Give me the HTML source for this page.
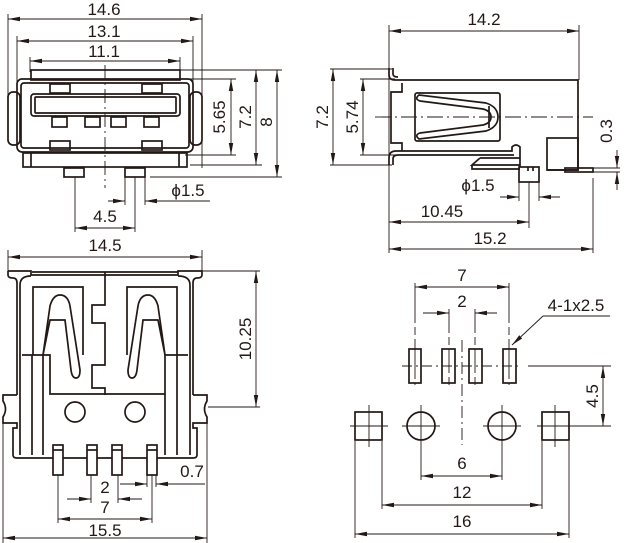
<!DOCTYPE html>
<html><head><meta charset="utf-8"><style>
html,body{margin:0;padding:0;background:#fff;}
svg{display:block;}
text{font-family:"Liberation Sans",sans-serif;font-size:17px;fill:#231815;}
</style></head><body>
<svg width="624" height="543" viewBox="0 0 624 543" xmlns="http://www.w3.org/2000/svg">
<defs>
<marker id="a" viewBox="0 0 12 6" refX="12" refY="3" markerWidth="12" markerHeight="6" markerUnits="userSpaceOnUse" orient="auto-start-reverse"><path d="M0,0.8 L12,3 L0,5.2 Z" fill="#231815"/></marker>
</defs>
<g stroke="#231815" fill="none">
<!-- ============ TOP LEFT VIEW ============ -->
<g stroke-width="0.9">
<line x1="8" y1="14" x2="8" y2="142"/><line x1="202" y1="14" x2="202" y2="168"/>
<line x1="17" y1="36" x2="17" y2="82"/><line x1="193" y1="36" x2="193" y2="82"/>
<line x1="30" y1="57" x2="30" y2="72"/><line x1="180" y1="57" x2="180" y2="72"/>
<line x1="8" y1="19" x2="202" y2="19" marker-start="url(#a)" marker-end="url(#a)"/>
<line x1="17" y1="41" x2="193" y2="41" marker-start="url(#a)" marker-end="url(#a)"/>
<line x1="30" y1="61" x2="180" y2="61" marker-start="url(#a)" marker-end="url(#a)"/>
<line x1="185" y1="79" x2="236" y2="79"/><line x1="185" y1="155" x2="236" y2="155"/>
<line x1="180" y1="70" x2="282" y2="70"/><line x1="190" y1="165" x2="262" y2="165"/>
<line x1="150" y1="177" x2="282" y2="177"/>
<line x1="231" y1="79" x2="231" y2="155" marker-start="url(#a)" marker-end="url(#a)"/>
<line x1="256" y1="70" x2="256" y2="165" marker-start="url(#a)" marker-end="url(#a)"/>
<line x1="277" y1="70" x2="277" y2="177" marker-start="url(#a)" marker-end="url(#a)"/>
<line x1="125" y1="177" x2="125" y2="205"/><line x1="145" y1="177" x2="145" y2="205"/>
<line x1="75" y1="177" x2="75" y2="232"/><line x1="135" y1="177" x2="135" y2="232"/>
<line x1="108" y1="201" x2="125" y2="201" marker-end="url(#a)"/>
<line x1="145" y1="201" x2="210" y2="201" marker-start="url(#a)"/>
<line x1="75" y1="228" x2="135" y2="228" marker-start="url(#a)" marker-end="url(#a)"/>
<line x1="105" y1="65" x2="105" y2="188" stroke-dasharray="14,4,2,4"/>
</g>
<g stroke-width="1.7">
<rect x="31" y="70" width="149" height="10"/>
<rect x="17" y="79" width="176" height="73" rx="5"/>
<rect x="21" y="83" width="168" height="65" rx="3"/>
<rect x="8" y="92" width="12" height="53" rx="5"/>
<rect x="190" y="92" width="12" height="53" rx="5"/>
<rect x="31" y="94" width="149" height="22" rx="3"/>
<rect x="35" y="97" width="141" height="16" rx="1"/>
<rect x="50" y="84" width="20" height="9"/><rect x="142" y="84" width="20" height="9"/>
<rect x="52" y="117" width="15" height="10"/><rect x="85" y="117" width="15" height="10"/>
<rect x="111" y="117" width="15" height="10"/><rect x="144" y="117" width="15" height="10"/>
<rect x="50" y="141" width="20" height="9"/><rect x="142" y="141" width="20" height="9"/>
<rect x="23" y="153" width="164" height="14"/>
<line x1="31" y1="153" x2="31" y2="167"/><line x1="179" y1="153" x2="179" y2="167"/>
<rect x="64" y="168" width="20" height="9"/><rect x="125" y="168" width="20" height="9"/>
</g>
<!-- ============ TOP RIGHT VIEW ============ -->
<g stroke-width="0.9">
<line x1="389" y1="25" x2="389" y2="253"/><line x1="579" y1="25" x2="579" y2="80"/>
<line x1="389" y1="31" x2="579" y2="31" marker-start="url(#a)" marker-end="url(#a)"/>
<line x1="330" y1="69" x2="392" y2="69"/><line x1="330" y1="165" x2="392" y2="165"/>
<line x1="360" y1="79" x2="395" y2="79"/><line x1="360" y1="155" x2="395" y2="155"/>
<line x1="333" y1="69" x2="333" y2="165" marker-start="url(#a)" marker-end="url(#a)"/>
<line x1="363" y1="79" x2="363" y2="155" marker-start="url(#a)" marker-end="url(#a)"/>
<line x1="375" y1="117" x2="593" y2="117" stroke-dasharray="16,4,2,4"/>
<line x1="593" y1="168" x2="620" y2="168"/><line x1="593" y1="172" x2="620" y2="172"/>
<line x1="617" y1="150" x2="617" y2="168" marker-end="url(#a)"/>
<line x1="617" y1="190" x2="617" y2="172" marker-end="url(#a)"/>
<line x1="519" y1="182" x2="519" y2="201"/><line x1="539" y1="182" x2="539" y2="201"/>
<line x1="529" y1="182" x2="529" y2="228"/>
<line x1="500" y1="197" x2="519" y2="197" marker-end="url(#a)"/>
<line x1="539" y1="197" x2="560" y2="197" marker-start="url(#a)"/>
<line x1="389" y1="222" x2="529" y2="222" marker-start="url(#a)" marker-end="url(#a)"/>
<line x1="593" y1="178" x2="593" y2="253"/>
<line x1="389" y1="249" x2="593" y2="249" marker-start="url(#a)" marker-end="url(#a)"/>
</g>
<g stroke-width="1.7">
<path d="M389,68 L389,75 Q389,80 395,80 L578,80 L578,170 L547,170"/>
<path d="M393,68 L393,74 Q393,77 398,77"/>
<path d="M402,83 L402,92 L391,92 L391,143 L402,143 L402,151"/>
<path d="M389,165 L389,158 Q389,151 396,151 L512,151 L512,147 Q516,143 520,147 L520,167"/>
<path d="M393,165 L393,159 Q393,155 398,155 L514,155"/>
<rect x="415" y="93" width="85" height="48" rx="2"/>
<path d="M419,95 Q414,99 420,101 L483,109 Q491,111 491,117 Q491,123 483,125 L420,133 Q414,135 419,139 L486,131 Q498,127 498,117 Q498,107 486,103 Z"/>
<line x1="489" y1="106" x2="489" y2="128"/>
<rect x="547" y="138" width="31" height="32"/>
<path d="M480,158 L520,158 M480,158 L472,165 L520,165 M472,165 L472,169 L520,169"/>
<rect x="519" y="167" width="20" height="15"/>
<line x1="528" y1="167" x2="528" y2="171"/><line x1="533" y1="167" x2="533" y2="171"/>
<rect x="565" y="168" width="28" height="4"/>
</g>
<!-- ============ BOTTOM LEFT VIEW ============ -->
<g stroke-width="0.9">
<line x1="8" y1="250" x2="8" y2="272"/><line x1="202" y1="250" x2="202" y2="272"/>
<line x1="8" y1="257" x2="202" y2="257" marker-start="url(#a)" marker-end="url(#a)"/>
<line x1="200" y1="271" x2="260" y2="271"/><line x1="208" y1="407" x2="260" y2="407"/>
<line x1="256" y1="271" x2="256" y2="407" marker-start="url(#a)" marker-end="url(#a)"/>
<line x1="3" y1="418" x2="3" y2="543"/><line x1="207" y1="418" x2="207" y2="543"/>
<line x1="3" y1="538" x2="207" y2="538" marker-start="url(#a)" marker-end="url(#a)"/>
<line x1="58" y1="475" x2="58" y2="523"/><line x1="152" y1="475" x2="152" y2="523"/>
<line x1="58" y1="519" x2="152" y2="519" marker-start="url(#a)" marker-end="url(#a)"/>
<line x1="91" y1="475" x2="91" y2="503"/><line x1="118" y1="475" x2="118" y2="503"/>
<line x1="67" y1="499" x2="91" y2="499" marker-end="url(#a)"/>
<line x1="142" y1="499" x2="118" y2="499" marker-end="url(#a)"/>
<line x1="147" y1="475" x2="147" y2="487"/><line x1="156" y1="475" x2="156" y2="487"/>
<line x1="120" y1="484" x2="147" y2="484" marker-end="url(#a)"/>
<line x1="205" y1="484" x2="156" y2="484" marker-end="url(#a)"/>
</g>
<g stroke-width="1.7">
<path d="M8,271 L8,275 Q8,278 13,278 Q17,278 17,283 L17,395 M8,271 L31,271 L31,275 L178,275 L178,271 L202,271 L202,275 Q202,278 197,278 Q193,278 193,283 L193,395"/>
<path d="M31,276 Q20,276 20,285 L20,455 M178,276 Q190,276 190,285 L190,455"/>
<line x1="32" y1="272" x2="178" y2="272"/>
<path d="M17,395 L3,395 L3,401 Q8,409 3,417 L3,423 L17,423 L17,428 L13,428 L13,455 Q13,458 17,458 L193,458 Q197,458 197,455 L197,428 L193,428 L193,423 L207,423 L207,417 Q202,409 207,401 L207,395 L193,395"/>
<path d="M33,355 L33,287 L83,287 L83,355"/>
<path d="M127,355 L127,287 L177,287 L177,355"/>
<path d="M105,272 L105,305 L92,305 L92,323 L105,323 L105,365 L92,365 L92,388 L105,388 L105,395"/>
<path d="M22,355 L50,355 L50,394 L165,394 L165,355 L188,355"/>
<line x1="32" y1="355" x2="32" y2="455"/><line x1="43" y1="355" x2="43" y2="455"/>
<line x1="177" y1="355" x2="177" y2="455"/><line x1="165" y1="394" x2="165" y2="455"/>
<path d="M43,355 L50,306 Q53,295 60,295 Q68,295 70,306 L80,370 Q80,378 76,378 Q72,378 71,370 L65,320 L50,320 L43,355"/>
<path d="M165,355 L158,306 Q155,295 148,295 Q140,295 138,306 L128,370 Q128,378 132,378 Q136,378 137,370 L143,320 L158,320 L165,355"/>
<circle cx="75" cy="412" r="10"/><circle cx="135" cy="412" r="10"/>
<rect x="53" y="445" width="10" height="30" fill="#fff"/><rect x="87" y="445" width="10" height="30" fill="#fff"/>
<rect x="112" y="445" width="10" height="30" fill="#fff"/><rect x="147" y="445" width="10" height="30" fill="#fff"/>
<line x1="53" y1="450" x2="63" y2="450"/><line x1="87" y1="450" x2="97" y2="450"/>
<line x1="112" y1="450" x2="122" y2="450"/><line x1="147" y1="450" x2="157" y2="450"/>
</g>
<!-- ============ BOTTOM RIGHT VIEW ============ -->
<g stroke-width="0.9">
<line x1="415" y1="283" x2="415" y2="385" stroke-dasharray="40,4,8,4"/>
<line x1="509" y1="283" x2="509" y2="385" stroke-dasharray="40,4,8,4"/>
<line x1="415" y1="287" x2="509" y2="287" marker-start="url(#a)" marker-end="url(#a)"/>
<line x1="449" y1="309" x2="449" y2="385" stroke-dasharray="24,4,8,4"/>
<line x1="475" y1="309" x2="475" y2="385" stroke-dasharray="24,4,8,4"/>
<line x1="423" y1="313" x2="449" y2="313" marker-end="url(#a)"/>
<line x1="497" y1="313" x2="475" y2="313" marker-end="url(#a)"/>
<line x1="462" y1="340" x2="462" y2="445" stroke-dasharray="12,4,2,4"/>
<line x1="402" y1="366" x2="522" y2="366" stroke-dasharray="10,4,2,4"/>
<line x1="528" y1="366" x2="611" y2="366"/>
<line x1="575" y1="426" x2="611" y2="426"/>
<line x1="603" y1="366" x2="603" y2="426" marker-start="url(#a)" marker-end="url(#a)"/>
<line x1="610" y1="316" x2="543" y2="316"/>
<line x1="543" y1="316" x2="512" y2="345" marker-end="url(#a)"/>
<line x1="350" y1="426" x2="388" y2="426"/><line x1="369" y1="405" x2="369" y2="447"/>
<line x1="537" y1="426" x2="575" y2="426"/><line x1="555" y1="405" x2="555" y2="447"/>
<line x1="402" y1="426" x2="440" y2="426"/><line x1="483" y1="426" x2="521" y2="426"/>
<line x1="421" y1="405" x2="421" y2="480"/><line x1="502" y1="405" x2="502" y2="480"/>
<line x1="421" y1="476" x2="502" y2="476" marker-start="url(#a)" marker-end="url(#a)"/>
<line x1="382" y1="441" x2="382" y2="509"/><line x1="542" y1="441" x2="542" y2="509"/>
<line x1="382" y1="505" x2="542" y2="505" marker-start="url(#a)" marker-end="url(#a)"/>
<line x1="355" y1="441" x2="355" y2="538"/><line x1="569" y1="441" x2="569" y2="538"/>
<line x1="355" y1="534" x2="569" y2="534" marker-start="url(#a)" marker-end="url(#a)"/>
</g>
<g stroke-width="1.7">
<rect x="409" y="349" width="12" height="34"/><rect x="442" y="349" width="13" height="34"/>
<rect x="469" y="349" width="13" height="34"/><rect x="503" y="349" width="13" height="34"/>
<rect x="355" y="412" width="27" height="28"/><rect x="542" y="412" width="27" height="28"/>
<circle cx="421" cy="426" r="14"/><circle cx="502" cy="426" r="14"/>
</g>
</g>
<text x="104" y="15" text-anchor="middle">14.6</text>
<text x="104" y="37" text-anchor="middle">13.1</text>
<text x="104" y="57" text-anchor="middle">11.1</text>
<text transform="translate(225,117) rotate(-90)" text-anchor="middle">5.65</text>
<text transform="translate(251,117) rotate(-90)" text-anchor="middle">7.2</text>
<text transform="translate(272,122) rotate(-90)" text-anchor="middle">8</text>
<text x="188" y="196" text-anchor="middle">ϕ1.5</text>
<text x="105" y="222" text-anchor="middle">4.5</text>
<text x="484" y="25" text-anchor="middle">14.2</text>
<text transform="translate(328,117) rotate(-90)" text-anchor="middle">7.2</text>
<text transform="translate(358,117) rotate(-90)" text-anchor="middle">5.74</text>
<text transform="translate(612,131) rotate(-90)" text-anchor="middle">0.3</text>
<text x="478" y="191" text-anchor="middle">ϕ1.5</text>
<text x="442" y="217" text-anchor="middle">10.45</text>
<text x="490" y="244" text-anchor="middle">15.2</text>
<text x="105" y="251" text-anchor="middle">14.5</text>
<text transform="translate(251,339) rotate(-90)" text-anchor="middle">10.25</text>
<text x="192" y="477" text-anchor="middle">0.7</text>
<text x="105" y="493" text-anchor="middle">2</text>
<text x="105" y="513" text-anchor="middle">7</text>
<text x="105" y="536" text-anchor="middle">15.5</text>
<text x="462" y="281" text-anchor="middle">7</text>
<text x="462" y="307" text-anchor="middle">2</text>
<text x="576" y="311" text-anchor="middle">4-1x2.5</text>
<text transform="translate(598,396) rotate(-90)" text-anchor="middle">4.5</text>
<text x="462" y="469" text-anchor="middle">6</text>
<text x="462" y="498" text-anchor="middle">12</text>
<text x="462" y="527" text-anchor="middle">16</text>
</svg>
</body></html>
